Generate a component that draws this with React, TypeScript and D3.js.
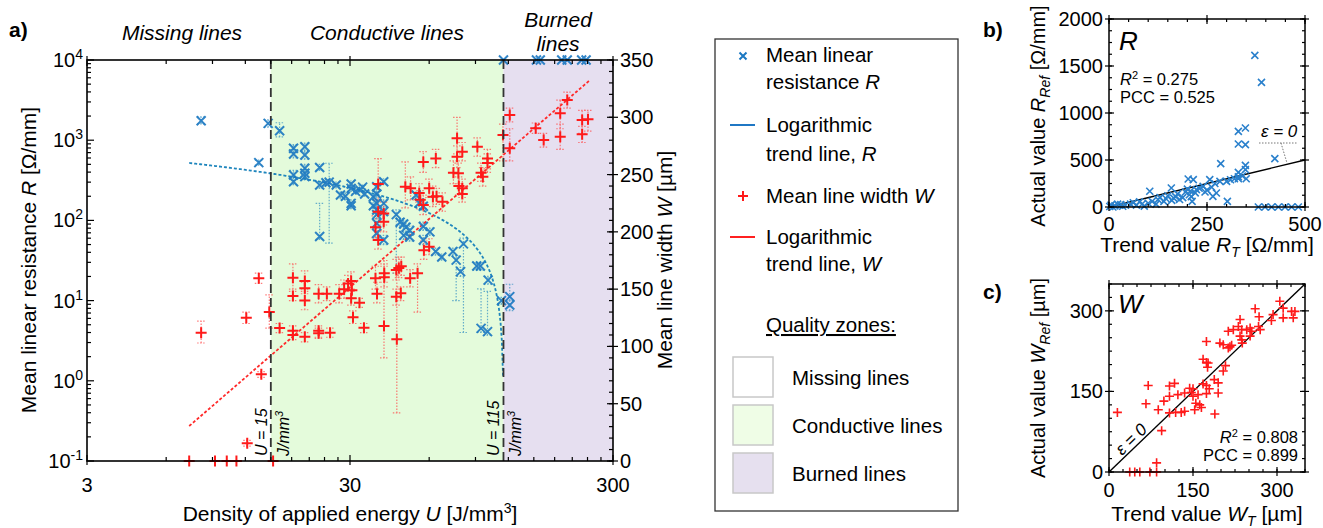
import * as d3 from 'd3';

const FONT = "'Liberation Sans', Arial, sans-serif";

// a) mean linear resistance R [Ω/mm] against energy density U [J/mm³]: [U, R, low, high]
const resistancePts = [
  [8.15, 1750, 1600, 1950], [13.5, 525, 490, 565], [14.65, 1620, 1450, 1800],
  [16.2, 1310, 1100, 1650], [18.3, 792, 700, 880], [18.3, 673, 600, 760],
  [18.3, 368, 330, 420], [18.3, 304, 280, 340], [20.2, 830, 740, 920],
  [20.2, 653, 580, 720], [20.2, 447, 400, 500], [20.2, 387, 350, 430],
  [20.2, 351, 320, 380], [23.0, 457, 420, 500], [23.0, 276, 250, 300],
  [23.0, 63, 58, 163], [24.3, 295, 270, 320], [25.0, 300, 52, 516],
  [26.6, 276, 255, 300], [27.6, 207, 190, 225], [28.8, 200, 180, 220],
  [30.3, 285, 265, 310], [30.3, 251, 230, 270], [30.3, 163, 150, 180],
  [30.3, 152, 140, 165], [31.5, 230, 215, 245], [32.7, 240, 225, 255],
  [33.5, 260, 245, 275], [34.1, 213, 200, 230], [36.8, 197, 180, 215],
  [36.8, 152, 140, 165], [37.9, 263, 240, 285], [37.9, 213, 195, 230],
  [37.9, 163, 150, 180], [37.9, 135, 120, 150], [37.9, 118, 105, 130],
  [37.9, 92, 80, 105], [37.9, 69, 60, 80], [40.3, 304, 280, 330],
  [40.3, 163, 145, 180], [40.3, 129, 115, 145], [40.3, 57, 50, 65],
  [45, 118, 22, 135], [46.5, 95, 85, 105], [48, 90, 80, 100],
  [49, 82, 72, 92], [50.6, 75, 65, 85], [48, 65, 58, 72],
  [50.6, 62, 55, 70], [53.5, 207, 190, 225], [55, 165, 150, 180],
  [57, 150, 140, 165], [57, 84, 75, 95], [57, 57, 50, 65],
  [60.4, 72, 65, 80], [63.5, 41, 37, 45], [67, 35, 32, 38],
  [73.9, 41, 37, 45], [76, 32, 10, 36], [79, 23, 20, 26],
  [81, 51, 4, 60], [91, 27, 24, 30], [94, 27, 24, 30],
  [100.5, 18, 16, 20], [94.5, 4.5, 4, 14], [100, 4.1, 3.7, 13],
  [113, 10, 9, 11], [121.5, 11.2, 10, 16], [121.5, 8.8, 7.5, 10],
];
// burned lines: resistance off the scale, shown on the top edge
const burnedU = [115, 153.5, 158.7, 191.5, 201, 228, 237];

// a) mean line width W [µm]: [U, W, low, high]
const widthPts = [
  [8.15, 112, 103, 122], [12.1, 125, 120, 130], [13.5, 159.5, 155, 164],
  [13.8, 75.7, 73, 78], [12.2, 15.4, 13, 18], [14.8, 130, 116, 145],
  [7.34, 0, 0, 0], [9.2, 0, 0, 0], [10.2, 0, 0, 0], [11.1, 0, 0, 0], [15.3, 0, 0, 0],
  [16.2, 116, 112, 120], [18.2, 160, 150, 172], [18.2, 144, 140, 148],
  [18.2, 113.7, 110, 118], [18.2, 110, 106, 114], [20.2, 157, 150, 166],
  [20.2, 150.7, 146, 156], [20.2, 140, 132, 148], [20.2, 108.5, 104, 112],
  [22.8, 146, 138, 154], [24.5, 146, 140, 152], [22.8, 113.7, 108, 118],
  [22.8, 111.5, 107, 116], [25.2, 112, 108, 116], [27.3, 146, 138, 154],
  [28.5, 150, 142, 158], [29.5, 155, 148, 162], [30.3, 157, 150, 165],
  [30.5, 149, 142, 156], [30.3, 142, 136, 148], [30.8, 125.4, 120, 131],
  [32.6, 138.2, 134, 142], [33.9, 116.3, 112, 120], [37.5, 159.5, 150, 170],
  [38, 146, 138, 156], [40.5, 160.3, 152, 170], [40.5, 163.8, 156, 172],
  [40.4, 117.8, 90, 175], [37.5, 204, 195, 214], [38.4, 241.8, 221, 264],
  [38.4, 217.6, 208, 228], [40.3, 216, 206, 226], [40.3, 208.9, 200, 218],
  [38.4, 193, 185, 201], [45, 166.7, 158, 176], [46, 168.5, 160, 178],
  [47, 170, 162, 178], [45, 143.4, 136, 150], [46.8, 146.4, 140, 152],
  [45.2, 106.2, 42, 164], [48.7, 239.4, 221, 261], [51, 238, 228, 248],
  [50.8, 159.5, 152, 167], [54.2, 163.8, 130, 172], [55, 234, 226, 242],
  [55.5, 228, 220, 236], [57, 261, 252, 270], [57.3, 184, 176, 192],
  [57, 223.4, 215, 232], [60, 187, 180, 194], [60, 238, 230, 246],
  [62, 230.7, 222, 240], [63.6, 264, 256, 272], [64, 231, 224, 238],
  [67.4, 226.3, 218, 234], [74.2, 251.6, 242, 262], [76.6, 281.6, 268, 300],
  [76.6, 265.6, 256, 275], [77.5, 251.1, 242, 260], [77.8, 240, 232, 248],
  [80.2, 270, 262, 278], [80.2, 238, 230, 246], [80.2, 233, 226, 240],
  [91.5, 274.3, 266, 282], [94.5, 251.6, 244, 260], [96, 248, 240, 256],
  [100, 264, 255, 272], [100, 260, 252, 268], [114.5, 284.5, 262, 294],
  [121.5, 302, 296, 308], [121.5, 273, 262, 290], [152.5, 290.4, 286, 295],
  [163.5, 280.2, 274, 286], [189, 303.5, 290, 315], [189, 283, 272, 294],
  [201, 315, 308, 322], [229, 297.6, 286, 306], [241, 298.2, 288, 306],
  [229, 285.1, 278, 292],
];

// logarithmic trend lines  y = a + b·ln(U)
const trendR = { a: 896.3, b: -188.8, u0: 7.34, u1: 114.6 };
const trendW = { a: -141, b: 86.05, u0: 7.34, u1: 243 };
const zoneEdges = [15, 115];

const uTicks = [3, 30, 300];
const rExps = [-1, 0, 1, 2, 3, 4];
const wTicks = [0, 50, 100, 150, 200, 250, 300, 350];

// b) trend value R_T vs actual value R_Ref [Ω/mm]
const rCompare = [
  [372, 1613], [389, 1326], [330, 805], [348, 840], [330, 670], [348, 663],
  [423, 514], [285, 461], [348, 443], [348, 397], [330, 369], [330, 301], [302, 60],
  [2, 5], [5, 20], [10, 0], [15, 12], [22, 30], [30, 25], [35, 8], [42, 18],
  [55, 30], [62, 45], [70, 20], [78, 55], [85, 35], [90, 10], [100, 40],
  [110, 60], [104, 167], [120, 30], [125, 80], [130, 100], [140, 60], [145, 90],
  [150, 120], [159, 202], [160, 70], [165, 95], [170, 110], [175, 140], [180, 80],
  [188, 100], [195, 160], [200, 190], [202, 298], [205, 130], [208, 170],
  [210, 110], [215, 291], [212, 60], [220, 150], [223, 185], [230, 200],
  [240, 220], [245, 160], [250, 180], [257, 291], [262, 210], [265, 113],
  [270, 250], [274, 149], [283, 273], [300, 273], [310, 290], [320, 300],
  [330, 320], [340, 330], [350, 300],
  [381, 0], [398, 0], [415, 0], [432, 0], [449, 0], [466, 0], [483, 0],
];
const bTicksX = [0, 250, 500];
const bTicksY = [0, 500, 1000, 1500, 2000];

// c) trend value W_T vs actual value W_Ref [µm]
const wCompare = [
  [15, 111], [70, 161], [66, 127], [88, 116], [94, 77], [98, 132],
  [108, 160], [108, 141], [108, 110], [117, 165], [119, 111], [123, 144],
  [129, 111], [135, 147], [135, 113], [144, 156], [147, 148], [150, 155],
  [150, 141], [153, 116], [159, 144], [155, 128], [162, 125], [165, 120],
  [168, 164], [174, 161], [179, 155], [174, 146], [168, 210], [174, 204],
  [174, 243], [176, 195], [177, 203], [188, 172], [195, 166], [195, 147],
  [189, 108], [198, 240], [204, 237], [204, 188], [208, 198], [213, 262],
  [222, 265], [213, 231], [216, 233], [219, 236], [231, 271], [234, 284],
  [237, 265], [234, 253], [237, 246], [238, 240], [246, 265], [252, 253],
  [255, 262], [261, 304], [267, 271], [270, 265], [290, 282], [293, 293],
  [305, 318], [311, 305], [311, 287], [326, 299], [329, 287], [332, 299],
  [252, 268], [268, 289],
  [37, 0], [46, 0], [55, 0], [73, 0], [85, 0], [85, 17],
];
const cTicks = [0, 150, 300];

const BLUE = '#1b78c2';
const RED = '#ff1a1a';

const xPath = (x: number, y: number, s: number) =>
  `M${x - s},${y - s}L${x + s},${y + s}M${x - s},${y + s}L${x + s},${y - s}`;
const plusPath = (x: number, y: number, s: number) =>
  `M${x - s},${y}L${x + s},${y}M${x},${y - s}L${x},${y + s}`;

type Lin = d3.ScaleLinear<number, number>;

// box with mirrored ticks for the small panels
function Frame({ x, y, xMajor, xMinor, yMajor, yMinor }: {
  x: Lin; y: Lin; xMajor: number[]; xMinor: number[]; yMajor: number[]; yMinor: number[];
}) {
  const [x0, x1] = x.range();
  const [y0, y1] = y.range();
  const ls: JSX.Element[] = [];
  xMinor.forEach((v, i) => {
    const p = x(v);
    ls.push(<line key={'xb' + i} x1={p} x2={p} y1={y0} y2={y0 - 3} />);
    ls.push(<line key={'xt' + i} x1={p} x2={p} y1={y1} y2={y1 + 3} />);
  });
  xMajor.forEach((v, i) => {
    const p = x(v);
    ls.push(<line key={'Xb' + i} x1={p} x2={p} y1={y0 + 4} y2={y0 - 5} />);
    ls.push(<line key={'Xt' + i} x1={p} x2={p} y1={y1 - 4} y2={y1 + 5} />);
  });
  yMinor.forEach((v, i) => {
    const p = y(v);
    ls.push(<line key={'yl' + i} y1={p} y2={p} x1={x0} x2={x0 + 3} />);
    ls.push(<line key={'yr' + i} y1={p} y2={p} x1={x1} x2={x1 - 3} />);
  });
  yMajor.forEach((v, i) => {
    const p = y(v);
    ls.push(<line key={'Yl' + i} y1={p} y2={p} x1={x0 - 4} x2={x0 + 5} />);
    ls.push(<line key={'Yr' + i} y1={p} y2={p} x1={x1 + 4} x2={x1 - 5} />);
  });
  return (
    <g stroke="#000" strokeWidth={1.2}>
      {ls}
      <rect x={x0} y={y1} width={x1 - x0} height={y0 - y1} fill="none" strokeWidth={1.5} />
    </g>
  );
}

export default function App() {
  // ---- panel a ----
  const L = 87, R = 613, T = 60, B = 461;
  const xA = d3.scaleLog().domain([3, 300]).range([L, R]);
  const yR = d3.scaleLog().domain([0.1, 1e4]).range([B, T]);
  const yW = d3.scaleLinear().domain([0, 350]).range([B, T]);

  const uMinor = [...d3.range(2, 10).map((k) => 3 * k), ...d3.range(2, 10).map((k) => 30 * k)];
  const rMinor = yR.ticks().filter((v) => Math.abs(Math.log10(v) - Math.round(Math.log10(v))) > 1e-6);
  const wMinor = d3.range(0, 351, 10);

  const sampleLog = (u0: number, u1: number) =>
    d3.range(0, 1.0001, 0.004).map((t) => Math.exp(Math.log(u0) + t * (Math.log(u1) - Math.log(u0))));

  const lineR = d3.line<number>()
    .x((u) => xA(u))
    .y((u) => yR(Math.max(0.1, trendR.a + trendR.b * Math.log(u))));
  const lineW = d3.line<number>()
    .x((u) => xA(u))
    .y((u) => yW(trendW.a + trendW.b * Math.log(u)));

  const zx0 = xA(zoneEdges[0]);
  const zx1 = xA(zoneEdges[1]);

  // ---- panel b / c ----
  const xB = d3.scaleLinear().domain([0, 500]).range([1109, 1305]);
  const yB = d3.scaleLinear().domain([0, 2000]).range([207, 19]);
  const xC = d3.scaleLinear().domain([0, 350]).range([1109, 1305]);
  const yC = d3.scaleLinear().domain([0, 350]).range([472, 284]);

  const supDy = -8;

  return (
    <svg width={1323} height={528} style={{ position: 'absolute', left: 0, top: 0, background: '#fff' }}
      fontFamily={FONT}>
      {/* zones */}
      <rect x={zx0} y={T} width={zx1 - zx0} height={B - T} fill="#e4fbdb" />
      <rect x={zx1} y={T} width={R - zx1} height={B - T} fill="#e6dff0" />

      {/* error bars */}
      <g stroke="#3a94c4" strokeWidth={1.2} strokeDasharray="1.5 1.5" opacity={0.75}>
        {resistancePts.map((d, i) => {
          const x = xA(d[0]);
          return (
            <g key={i}>
              <line x1={x} x2={x} y1={yR(d[2])} y2={yR(d[3])} />
              <line x1={x - 4} x2={x + 4} y1={yR(d[2])} y2={yR(d[2])} />
              <line x1={x - 4} x2={x + 4} y1={yR(d[3])} y2={yR(d[3])} />
            </g>
          );
        })}
      </g>
      <g stroke="#ff5050" strokeWidth={1.2} strokeDasharray="1.5 1.5" opacity={0.75}>
        {widthPts.filter((d) => d[1] > 0).map((d, i) => {
          const x = xA(d[0]);
          return (
            <g key={i}>
              <line x1={x} x2={x} y1={yW(d[2])} y2={yW(d[3])} />
              <line x1={x - 4} x2={x + 4} y1={yW(d[2])} y2={yW(d[2])} />
              <line x1={x - 4} x2={x + 4} y1={yW(d[3])} y2={yW(d[3])} />
            </g>
          );
        })}
      </g>

      {/* trend lines */}
      <path d={lineR(sampleLog(trendR.u0, trendR.u1)) || ''} fill="none" stroke="#1f86bd"
        strokeWidth={1.8} strokeDasharray="3 2" />
      <path d={lineW(sampleLog(trendW.u0, trendW.u1)) || ''} fill="none" stroke="#ff2a2a"
        strokeWidth={1.8} strokeDasharray="3 2" />

      {/* markers */}
      <g stroke={BLUE} strokeWidth={2} fill="none" opacity={0.9}>
        {resistancePts.map((d, i) => (
          <path key={i} d={xPath(xA(d[0]), yR(d[1]), 4.5)} />
        ))}
        {burnedU.map((u, i) => (
          <path key={'b' + i} d={xPath(xA(u), T, 4.5)} />
        ))}
      </g>
      <g stroke={RED} strokeWidth={2} fill="none">
        {widthPts.map((d, i) => (
          <path key={i} d={plusPath(xA(d[0]), yW(d[1]), 5.5)} />
        ))}
      </g>

      {/* zone borders */}
      {zoneEdges.map((u, i) => (
        <line key={i} x1={xA(u)} x2={xA(u)} y1={T} y2={B} stroke="#333" strokeWidth={1.8}
          strokeDasharray="9 5" />
      ))}
      {zoneEdges.map((u, i) => (
        <g key={'t' + i} fontSize={16} fontStyle="italic">
          <text transform={`translate(${xA(u) - 4},456) rotate(-90)`}>U = {u}</text>
          <text transform={`translate(${xA(u) + 18},456) rotate(-90)`}>
            J/mm<tspan dy={-6} fontSize={11}>3</tspan>
          </text>
        </g>
      ))}

      {/* axes of panel a */}
      <g stroke="#000" strokeWidth={1.2}>
        {uMinor.map((u, i) => (
          <g key={i}>
            <line x1={xA(u)} x2={xA(u)} y1={B} y2={B - 4} />
            <line x1={xA(u)} x2={xA(u)} y1={T} y2={T + 4} />
          </g>
        ))}
        {uTicks.map((u, i) => (
          <g key={'M' + i}>
            <line x1={xA(u)} x2={xA(u)} y1={B + 4} y2={B - 6} />
            <line x1={xA(u)} x2={xA(u)} y1={T - 4} y2={T + 6} />
          </g>
        ))}
        {rMinor.map((v, i) => (
          <line key={'r' + i} x1={L} x2={L + 4} y1={yR(v)} y2={yR(v)} />
        ))}
        {rExps.map((e, i) => (
          <line key={'R' + i} x1={L} x2={L + 7} y1={yR(Math.pow(10, e))} y2={yR(Math.pow(10, e))} />
        ))}
        {wMinor.map((v, i) => (
          <line key={'w' + i} x1={R - 4} x2={R} y1={yW(v)} y2={yW(v)} />
        ))}
        {wTicks.map((v, i) => (
          <line key={'W' + i} x1={R - 6} x2={R + 5} y1={yW(v)} y2={yW(v)} />
        ))}
        <rect x={L} y={T} width={R - L} height={B - T} fill="none" strokeWidth={1.6} />
      </g>
      <g fontSize={20}>
        {uTicks.map((u, i) => (
          <text key={i} x={xA(u)} y={492} textAnchor="middle">{u}</text>
        ))}
        {rExps.map((e, i) => (
          <text key={'r' + i} x={83} y={yR(Math.pow(10, e)) + 7} textAnchor="end">
            10<tspan dy={supDy} fontSize={14}>{e}</tspan>
          </text>
        ))}
        {wTicks.map((v, i) => (
          <text key={'w' + i} x={620} y={yW(v) + 7}>{v}</text>
        ))}
      </g>
      <g fontSize={21}>
        <text x={350} y={521} textAnchor="middle">
          Density of applied energy <tspan fontStyle="italic">U</tspan> [J/mm<tspan dy={-8} fontSize={14}>3</tspan><tspan dy={8}>]</tspan>
        </text>
        <text transform={`translate(36,260) rotate(-90)`} textAnchor="middle">
          Mean linear resistance <tspan fontStyle="italic">R</tspan> [Ω/mm]
        </text>
        <text transform={`translate(672,260) rotate(-90)`} textAnchor="middle">
          Mean line width <tspan fontStyle="italic">W</tspan> [µm]
        </text>
      </g>
      <g fontSize={21} fontStyle="italic" textAnchor="middle">
        <text x={182} y={40}>Missing lines</text>
        <text x={387} y={40}>Conductive lines</text>
        <text x={558} y={27}>Burned</text>
        <text x={558} y={51}>lines</text>
      </g>
      <text x={9} y={37} fontSize={21} fontWeight="bold">a)</text>

      {/* legend */}
      <rect x={715} y={39} width={243} height={472} fill="#fff" stroke="#333" strokeWidth={1.3} />
      <g fontSize={20.5}>
        <path d={xPath(743, 56, 3.5)} stroke={BLUE} strokeWidth={2} />
        <text x={766} y={62}>Mean linear</text>
        <text x={766} y={89}>resistance <tspan fontStyle="italic">R</tspan></text>
        <line x1={730} x2={755} y1={125} y2={125} stroke="#1f77c4" strokeWidth={2} />
        <text x={766} y={132}>Logarithmic</text>
        <text x={766} y={161}>trend line, <tspan fontStyle="italic">R</tspan></text>
        <path d={plusPath(743, 196, 5)} stroke={RED} strokeWidth={2} />
        <text x={766} y={203}>Mean line width <tspan fontStyle="italic">W</tspan></text>
        <line x1={730} x2={755} y1={237} y2={237} stroke="#ff2020" strokeWidth={2} />
        <text x={766} y={244}>Logarithmic</text>
        <text x={766} y={271}>trend line, <tspan fontStyle="italic">W</tspan></text>
        <text x={766} y={332} textDecoration="underline">Quality zones:</text>
        <rect x={733} y={357} width={40} height={40} fill="#fff" stroke="#c8c8c8" strokeWidth={1.5} />
        <rect x={733} y={405} width={40} height={40} fill="#effde6" stroke="#c8c8c8" strokeWidth={1.5} />
        <rect x={733} y={453} width={40} height={40} fill="#e6e0ef" stroke="#c8c8c8" strokeWidth={1.5} />
        <text x={792} y={385}>Missing lines</text>
        <text x={792} y={433}>Conductive lines</text>
        <text x={792} y={481}>Burned lines</text>
      </g>

      {/* panel b */}
      <path d={`M${xB(0)},${yB(0)}L${xB(500)},${yB(500)}`} stroke="#000" strokeWidth={1.4} />
      <g stroke="#2a80cc" strokeWidth={1.6} fill="none">
        {rCompare.map((d, i) => (
          <path key={i} d={xPath(xB(d[0]), yB(d[1]), 3.5)} />
        ))}
      </g>
      <Frame x={xB} y={yB} xMajor={bTicksX} xMinor={d3.range(0, 501, 50)}
        yMajor={bTicksY} yMinor={d3.range(0, 2001, 125)} />
      <g fontSize={20}>
        {bTicksX.map((v, i) => (
          <text key={i} x={xB(v)} y={231} textAnchor="middle">{v}</text>
        ))}
        {bTicksY.map((v, i) => (
          <text key={'y' + i} x={1103} y={yB(v) + 7} textAnchor="end">{v}</text>
        ))}
      </g>
      <text x={1119} y={50} fontSize={26} fontStyle="italic">R</text>
      <g fontSize={16.5}>
        <text x={1120} y={85}>
          <tspan fontStyle="italic">R</tspan><tspan dy={-6} fontSize={11}>2</tspan><tspan dy={6}> = 0.275</tspan>
        </text>
        <text x={1120} y={103}>PCC = 0.525</text>
      </g>
      <text x={1261} y={137} fontSize={17} fontStyle="italic">ε = 0</text>
      <path d="M1259,143L1298,143M1281,143L1287,163" stroke="#777" strokeWidth={1}
        strokeDasharray="1.5 1.5" fill="none" />
      <text x={983} y={37} fontSize={21} fontWeight="bold">b)</text>
      <g fontSize={21}>
        <text x={1207} y={252} textAnchor="middle">
          Trend value <tspan fontStyle="italic">R</tspan><tspan dy={5} fontSize={14} fontStyle="italic">T</tspan><tspan dy={-5}> [Ω/mm]</tspan>
        </text>
        <text transform={`translate(1045,116) rotate(-90)`} textAnchor="middle" fontSize={20}>
          Actual value <tspan fontStyle="italic">R</tspan><tspan dy={5} fontSize={14} fontStyle="italic">Ref</tspan><tspan dy={-5}> [Ω/mm]</tspan>
        </text>
      </g>

      {/* panel c */}
      <path d={`M${xC(0)},${yC(0)}L${xC(350)},${yC(350)}`} stroke="#000" strokeWidth={1.4} />
      <g stroke={RED} strokeWidth={1.6} fill="none">
        {wCompare.map((d, i) => (
          <path key={i} d={plusPath(xC(d[0]), yC(d[1]), 4.5)} />
        ))}
      </g>
      <Frame x={xC} y={yC} xMajor={cTicks} xMinor={d3.range(0, 351, 25)}
        yMajor={cTicks} yMinor={d3.range(0, 351, 25)} />
      <g fontSize={20}>
        {cTicks.map((v, i) => (
          <text key={i} x={xC(v)} y={497} textAnchor="middle">{v}</text>
        ))}
        {cTicks.map((v, i) => (
          <text key={'y' + i} x={1103} y={yC(v) + 7} textAnchor="end">{v}</text>
        ))}
      </g>
      <text x={1118} y={313} fontSize={26} fontStyle="italic">W</text>
      <g fontSize={16.5} textAnchor="end">
        <text x={1298} y={443}>
          <tspan fontStyle="italic">R</tspan><tspan dy={-6} fontSize={11}>2</tspan><tspan dy={6}> = 0.808</tspan>
        </text>
        <text x={1298} y={461}>PCC = 0.899</text>
      </g>
      <text transform={`translate(1122,456) rotate(-44)`} fontSize={17} fontStyle="italic">ε = 0</text>
      <text x={983} y={299} fontSize={21} fontWeight="bold">c)</text>
      <g fontSize={21}>
        <text x={1207} y={521} textAnchor="middle">
          Trend value <tspan fontStyle="italic">W</tspan><tspan dy={5} fontSize={14} fontStyle="italic">T</tspan><tspan dy={-5}> [µm]</tspan>
        </text>
        <text transform={`translate(1045,378) rotate(-90)`} textAnchor="middle" fontSize={20}>
          Actual value <tspan fontStyle="italic">W</tspan><tspan dy={5} fontSize={14} fontStyle="italic">Ref</tspan><tspan dy={-5}> [µm]</tspan>
        </text>
      </g>
    </svg>
  );
}
